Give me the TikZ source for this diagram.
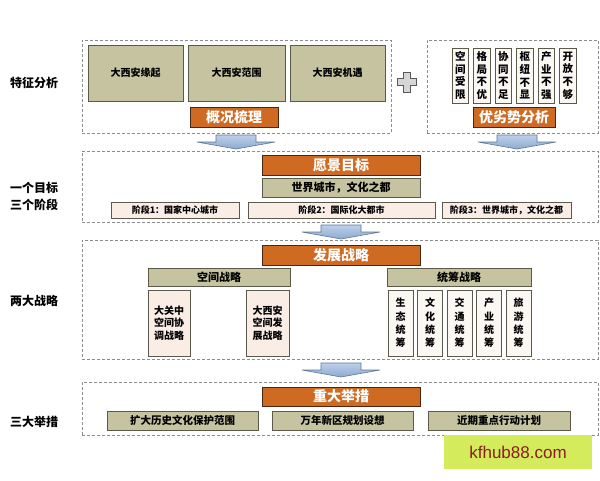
\documentclass[tikz,border=0pt]{standalone}
\usepackage{fontspec}
\setmainfont{Noto Sans CJK SC}
\newfontfamily\wmfont{Liberation Sans}
\definecolor{olivef}{HTML}{C6C4A0}
\definecolor{oliveb}{HTML}{5A5A4A}
\definecolor{orangef}{HTML}{CF6A22}
\definecolor{orangeb}{HTML}{4A2510}
\definecolor{pinkf}{HTML}{FAEDE6}
\definecolor{whitef}{HTML}{FBF8F4}
\definecolor{dashc}{HTML}{8C8C8C}
\definecolor{arrowt}{HTML}{BCD0EA}
\definecolor{arrowbt}{HTML}{8EA9D0}
\definecolor{arrowb}{HTML}{5F7896}
\definecolor{plusf}{HTML}{D6D6D6}
\definecolor{wmf}{HTML}{D4EC5C}
\definecolor{wmt}{HTML}{8A1E1E}
\tikzset{
  base/.style={draw, inner sep=0pt, align=center},
  olivebox/.style={base, fill=olivef, draw=oliveb, line width=0.8pt, font=\bfseries\fontsize{10}{12}\selectfont},
  orangebox/.style={base, fill=orangef, draw=orangeb, line width=1pt, text=white, font=\bfseries\fontsize{14}{16}\selectfont, minimum width=#1, minimum height=20pt},
  stagebox/.style={base, fill=pinkf, draw=oliveb, line width=0.8pt, minimum height=16pt, font=\bfseries\fontsize{9}{11}\selectfont},
  vbox/.style={base, fill=whitef, draw=oliveb, line width=0.8pt, font=\bfseries\fontsize{10.5}{12.6}\selectfont},
  vboxb/.style={base, fill=whitef, draw=oliveb, line width=0.8pt, minimum width=25pt, minimum height=66pt, font=\bfseries\fontsize{10}{13.4}\selectfont},
  frame/.style={draw=dashc, dash pattern=on 3pt off 2pt, line width=0.7pt, inner sep=0pt},
  sidelabel/.style={font=\bfseries\fontsize{12}{17}\selectfont, align=center},
  blockarrow/.pic={\path[top color=arrowt, bottom color=arrowbt, draw=arrowb, line width=0.6pt]
     (-20,0) -- (20,0) -- (20,7) -- (39,7) -- (0,14) -- (-39,7) -- (-20,7) -- cycle;}
}
\begin{document}
\begin{tikzpicture}[x=1pt,y=-1pt]
\useasboundingbox[fill=white] (0,0) rectangle (600,480);

% ---------- section 1
\node[frame, minimum width=309pt, minimum height=93pt] (fA) at (236.5,86.5) {};
\node[frame, minimum width=171pt, minimum height=93pt] (fB) at (512.5,86.5) {};
\node[olivebox, minimum width=95pt, minimum height=56pt] (o1) at (135.5,73) {大西安缘起};
\node[olivebox, minimum width=97pt, minimum height=56pt] (o2) at (236.5,73) {大西安范围};
\node[olivebox, minimum width=95pt, minimum height=56pt] (o3) at (337.5,73) {大西安机遇};
\node[orangebox=88pt] (gk) at (234,117) {概况梳理};
\path[fill=plusf, draw=black!65, line width=0.8pt]
  (403,72) -- (410,72) -- (410,78.5) -- (416,78.5) -- (416,85.5) -- (410,85.5) -- (410,92)
  -- (403,92) -- (403,85.5) -- (397,85.5) -- (397,78.5) -- (403,78.5) -- cycle;
\coordinate (plus) at (406.5,82);
\foreach \i/\x/\t in {1/460.25/空\\间\\受\\限, 2/481.75/格\\局\\不\\优, 3/503.25/协\\同\\不\\足,
                      4/524.75/枢\\纽\\不\\显, 5/546.25/产\\业\\不\\强, 6/567.75/开\\放\\不\\够}
  \node[vbox, minimum width=16.5pt, minimum height=55pt] (w\i) at (\x,75.5) {\t};
\node[orangebox=82pt] (yl) at (514,117) {优劣势分析};
\coordinate (aA) at (236,135);
\coordinate (aB) at (517,135);
\pic at (aA) {blockarrow};
\pic at (aB) {blockarrow};

% ---------- section 2
\node[frame, minimum width=516pt, minimum height=71pt] (fC) at (340,186.5) {};
\node[orangebox=158pt] (vision) at (341,165) {愿景目标};
\node[olivebox, minimum width=158pt, minimum height=19pt, font=\bfseries\fontsize{11}{13}\selectfont] (world) at (341,187.5) {世界城市，文化之都};
\node[stagebox, minimum width=128pt] (s1) at (175,210) {阶段1：国家中心城市};
\node[stagebox, minimum width=187pt] (s2) at (341.5,210) {阶段2：国际化大都市};
\node[stagebox, minimum width=129pt] (s3) at (506.5,210) {阶段3：世界城市，文化之都};
\coordinate (aC) at (341,225);
\pic at (aC) {blockarrow};

% ---------- section 3
\node[frame, minimum width=516pt, minimum height=119pt] (fD) at (340,299.5) {};
\node[orangebox=158pt] (dev) at (341,255) {发展战略};
\node[olivebox, minimum width=142pt, minimum height=18pt, font=\bfseries\fontsize{11}{13}\selectfont] (kj) at (219,277) {空间战略};
\node[olivebox, minimum width=144pt, minimum height=18pt, font=\bfseries\fontsize{11}{13}\selectfont] (tc) at (459,277) {统筹战略};
\node[vbox, fill=pinkf, minimum width=42pt, minimum height=66pt, font=\bfseries\fontsize{10}{12.5}\selectfont] (b1) at (169,323) {大关中\\空间协\\调战略};
\node[vbox, fill=pinkf, minimum width=43pt, minimum height=66pt, font=\bfseries\fontsize{10}{12.5}\selectfont] (b2) at (267.5,323) {大西安\\空间发\\展战略};
\foreach \i/\x/\t in {1/400.5/生\\态\\统\\筹, 2/430/文\\化\\统\\筹, 3/459.5/交\\通\\统\\筹,
                      4/489/产\\业\\统\\筹, 5/518.5/旅\\游\\统\\筹}
  \node[vboxb] (t\i) at (\x,323) {\t};
\coordinate (aD) at (341,363);
\pic at (aD) {blockarrow};

% ---------- section 4
\node[frame, minimum width=516pt, minimum height=53pt] (fE) at (340,408.5) {};
\node[orangebox=158pt, minimum height=19pt] (meas) at (341,396.5) {重大举措};
\node[olivebox, minimum width=151pt, minimum height=19pt, font=\bfseries\fontsize{10.5}{12}\selectfont] (m1) at (182.5,420.5) {扩大历史文化保护范围};
\node[olivebox, minimum width=141pt, minimum height=19pt, font=\bfseries\fontsize{10.5}{12}\selectfont] (m2) at (342.5,420.5) {万年新区规划设想};
\node[olivebox, minimum width=142pt, minimum height=19pt, font=\bfseries\fontsize{10.5}{12}\selectfont] (m3) at (499,420.5) {近期重点行动计划};

% ---------- side labels
\node[sidelabel] (l1) at (34,83) {特征分析};
\node[sidelabel] (l2) at (34,196) {一个目标\\三个阶段};
\node[sidelabel] (l3) at (34,301) {两大战略};
\node[sidelabel] (l4) at (34,422) {三大举措};

% ---------- watermark
\node[fill=wmf, minimum width=148pt, minimum height=34pt, inner sep=0pt, text=wmt, font=\wmfont\fontsize{17}{19}\selectfont] (wm) at (518,452) {kfhub88.com};
\end{tikzpicture}
\end{document}
